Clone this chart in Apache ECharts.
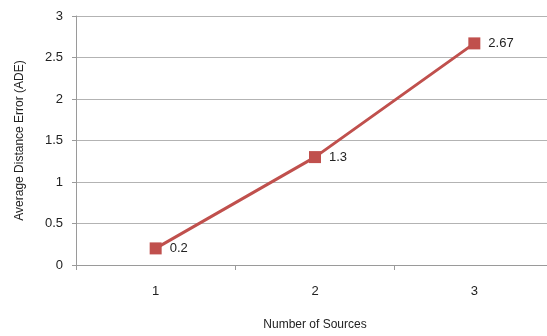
<!DOCTYPE html>
<html>
<head>
<meta charset="utf-8">
<script src="https://cdn.jsdelivr.net/npm/echarts@6/dist/echarts.min.js"></script>
<style>
  html, body { margin: 0; padding: 0; background: #fff; }
  #chart { width: 547px; height: 336px; }
</style>
</head>
<body>
<div id="chart"></div>
<script>
// Number of sources vs. average distance error
const sources = ['1', '2', '3'];
const adeValues = [0.2, 1.3, 2.67];
const yTicks = [0, 0.5, 1, 1.5, 2, 2.5, 3];

const font = 'Liberation Sans, Arial, sans-serif';
const chart = echarts.init(document.getElementById('chart'));
chart.setOption({
  animation: false,
  grid: { left: 76, right: -7, top: 16, bottom: 71, outerBoundsMode: 'none', containLabel: false },
  xAxis: {
    type: 'category',
    data: sources,
    boundaryGap: true,
    name: 'Number of Sources',
    nameLocation: 'middle',
    nameGap: 54,
    nameTextStyle: { fontFamily: font, fontSize: 12, color: '#222' },
    axisLine: { lineStyle: { color: '#9a9a9a', width: 1 } },
    axisTick: { show: true, length: 5, lineStyle: { color: '#9a9a9a' } },
    axisLabel: { fontFamily: font, fontSize: 13, color: '#222', margin: 20 }
  },
  yAxis: {
    type: 'value',
    min: yTicks[0],
    max: yTicks[yTicks.length - 1],
    interval: 0.5,
    name: 'Average Distance Error (ADE)',
    nameLocation: 'middle',
    nameGap: 50,
    nameTextStyle: { fontFamily: font, fontSize: 12, color: '#222' },
    axisLine: { show: true, lineStyle: { color: '#9a9a9a', width: 1 } },
    axisTick: { show: true, length: 4, lineStyle: { color: '#9a9a9a' } },
    axisLabel: { fontFamily: font, fontSize: 13, color: '#222', margin: 13 },
    splitLine: { lineStyle: { color: '#b3b3b3', width: 1 } }
  },
  series: [{
    type: 'line',
    data: adeValues,
    symbol: 'rect',
    symbolSize: 12,
    lineStyle: { color: '#C0504D', width: 3 },
    itemStyle: { color: '#C0504D' },
    label: {
      show: true,
      position: 'right',
      distance: 8,
      fontFamily: font,
      fontSize: 13,
      color: '#222'
    }
  }]
});
</script>
</body>
</html>
